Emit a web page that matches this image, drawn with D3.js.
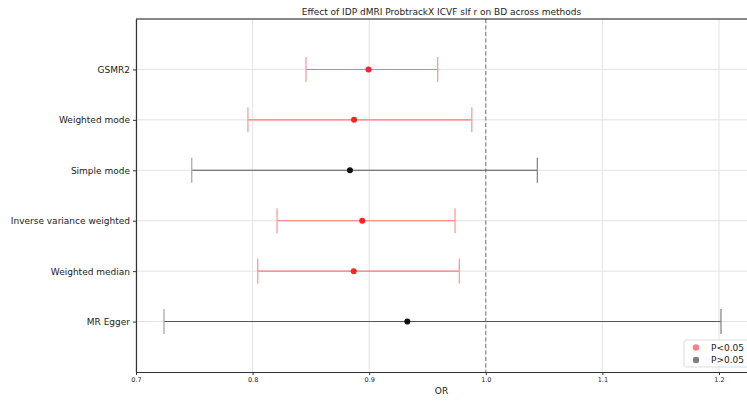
<!DOCTYPE html>
<html>
<head>
<meta charset="utf-8">
<script src="https://cdn.jsdelivr.net/npm/d3@7"></script>
<style>
  body { margin: 0; background: #fff; }
  svg text { font-family: "DejaVu Sans", sans-serif; fill: #222; }
</style>
</head>
<body>
<script>
// MR estimates per method (odds ratio with 95% CI)
var methods = ["MR Egger", "Weighted median", "Inverse variance weighted", "Simple mode", "Weighted mode", "GSMR2"];
var or = [0.9327, 0.8867, 0.8940, 0.8835, 0.8870, 0.8994];
var lower = [0.7240, 0.8044, 0.8210, 0.7478, 0.7960, 0.8458];
var upper = [1.2017, 0.9773, 0.9736, 1.0442, 0.9880, 0.9587];
var sig = [false, true, true, false, true, true];
var xTicks = [0.7, 0.8, 0.9, 1.0, 1.1, 1.2];
var legendLabels = ["P<0.05", "P>0.05"];

var W = 747, H = 401;
var margin = {top: 19, right: 0, bottom: 29, left: 136};
var width = W - margin.left - margin.right,
    height = H - margin.top - margin.bottom;

var svg = d3.select("body").append("svg").attr("width", W).attr("height", H);
var main = svg.append("g").attr("transform", "translate(" + margin.left + "," + margin.top + ")");

var x = d3.scaleLinear().domain([0.7, 0.7 + width / 1166]).range([0, width]);
var y = d3.scaleLinear().domain([-1, methods.length]).range([height, 0]);

// grid
main.selectAll(".vgrid").data(xTicks).enter().append("line")
    .attr("x1", d => x(d)).attr("x2", d => x(d))
    .attr("y1", 0).attr("y2", height)
    .attr("stroke", "#e3e3e3").attr("stroke-width", 1);
main.selectAll(".hgrid").data(methods).enter().append("line")
    .attr("x1", 0).attr("x2", width)
    .attr("y1", (d, i) => y(i)).attr("y2", (d, i) => y(i))
    .attr("stroke", "#e3e3e3").attr("stroke-width", 1);

// null line at OR = 1
main.append("line")
    .attr("x1", x(1)).attr("x2", x(1)).attr("y1", 0).attr("y2", height)
    .attr("stroke", "#777").attr("stroke-width", 1).attr("stroke-dasharray", "4,2.5");

// error bars
var rows = main.selectAll(".row").data(methods).enter().append("g");
rows.append("line")
    .attr("x1", (d, i) => x(lower[i])).attr("x2", (d, i) => x(upper[i]))
    .attr("y1", (d, i) => y(i)).attr("y2", (d, i) => y(i))
    .attr("stroke", (d, i) => sig[i] ? "#ff7676" : "#555")
    .attr("stroke-width", 1.1);
[lower, upper].forEach(function (arr, k) {
    rows.append("line")
        .attr("x1", (d, i) => x(arr[i])).attr("x2", (d, i) => x(arr[i]))
        .attr("y1", (d, i) => y(i) - 12.5).attr("y2", (d, i) => y(i) + 12.5)
        .attr("stroke", (d, i) => sig[i] ? "#ff9a9a" : (k == 0 ? "#aaa" : "#888"))
        .attr("stroke-width", 1.3);
});
rows.append("circle")
    .attr("cx", (d, i) => x(or[i])).attr("cy", (d, i) => y(i))
    .attr("r", 3)
    .attr("fill", (d, i) => sig[i] ? "#ff2020" : "#111");

// axes
var xAxis = d3.axisBottom(x).tickValues(xTicks).tickFormat(d3.format(".1f"))
    .tickSize(3).tickSizeOuter(0).tickPadding(2);
var gx = main.append("g").attr("transform", "translate(0," + height + ")").call(xAxis);
gx.select(".domain").attr("stroke", "#333").attr("stroke-width", 1.2);
gx.selectAll(".tick line").attr("stroke", "#333");
gx.selectAll("text").style("font-size", "6.5px").attr("fill", "#222");

var yAxis = d3.axisLeft(y).tickValues(d3.range(methods.length)).tickFormat(i => methods[i])
    .tickSize(3).tickSizeOuter(0).tickPadding(3);
var gy = main.append("g").call(yAxis);
gy.select(".domain").attr("stroke", "#333").attr("stroke-width", 1.2);
gy.selectAll(".tick line").attr("stroke", "#333");
gy.selectAll("text").style("font-size", "9px").attr("fill", "#222");

// top spine
main.append("line").attr("x1", 0).attr("x2", width).attr("y1", 0).attr("y2", 0)
    .attr("stroke", "#111").attr("stroke-width", 1);

// title and x label
svg.append("text").attr("x", margin.left + width / 2).attr("y", 15)
    .attr("text-anchor", "middle").style("font-size", "9px")
    .text("Effect of IDP dMRI ProbtrackX ICVF slf r on BD across methods");
svg.append("text").attr("x", margin.left + width / 2).attr("y", 394)
    .attr("text-anchor", "middle").style("font-size", "9px").text("OR");

// legend
var leg = main.append("g").attr("transform", "translate(" + (684 - margin.left) + "," + (340 - margin.top) + ")");
leg.append("rect").attr("width", 66).attr("height", 27).attr("rx", 2)
    .attr("fill", "#fff").attr("fill-opacity", 0.85).attr("stroke", "#ddd");
leg.selectAll(".ent").data(legendLabels).enter().append("g")
    .attr("transform", (d, i) => "translate(0," + (7.5 + i * 12.5) + ")")
    .each(function (d, i) {
        var g = d3.select(this);
        g.append("circle").attr("cx", 12).attr("cy", 0).attr("r", 3.2)
            .attr("fill", i == 0 ? "#ff8080" : "#808080");
        g.append("text").attr("x", 27).attr("y", 3.3).style("font-size", "9px").text(d);
    });
</script>
</body>
</html>
